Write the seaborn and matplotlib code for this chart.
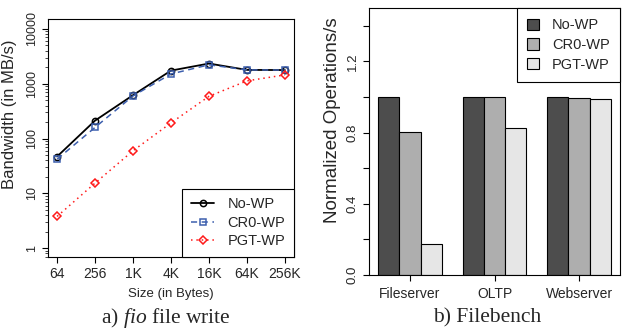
import numpy as np
import pandas as pd
import matplotlib
matplotlib.use("Agg")
import matplotlib.pyplot as plt
import seaborn as sns
from matplotlib.ticker import LogLocator, NullFormatter, FixedLocator

# data
sizes = ['64', '256', '1K', '4K', '16K', '64K', '256K']
bw_nowp = [47, 213, 620, 1740, 2340, 1790, 1780]
bw_cr0 = [42, 160, 600, 1510, 2220, 1790, 1780]
bw_pgt = [3.8, 15.4, 60, 193, 590, 1130, 1450]

workloads = ['Fileserver', 'OLTP', 'Webserver']
ops_nowp = [1.0, 1.0, 1.0]
ops_cr0 = [0.805, 1.0, 0.997]
ops_pgt = [0.175, 0.824, 0.988]

configs = ['No-WP', 'CR0-WP', 'PGT-WP']

sns.set_style('ticks')
plt.rcParams['font.family'] = ['Liberation Sans', 'DejaVu Sans']
plt.rcParams['mathtext.fontset'] = 'custom'
plt.rcParams['mathtext.it'] = 'Liberation Serif:italic'
plt.rcParams['mathtext.rm'] = 'Liberation Serif'

fig = plt.figure(figsize=(6.26, 3.33), dpi=100)
ax1 = fig.add_axes([48 / 626, 76 / 333, 246 / 626, 238 / 333])
ax2 = fig.add_axes([369 / 626, 58 / 333, 251 / 626, 267 / 333])

# left: fio write bandwidth
df_bw = pd.DataFrame({'pos': np.arange(len(sizes)), 'No-WP': bw_nowp,
                      'CR0-WP': bw_cr0, 'PGT-WP': bw_pgt})
styles = {
    'No-WP': dict(color='black', linestyle='-', marker='o', ms=4.5, lw=1.3),
    'CR0-WP': dict(color='#3d5fae', linestyle=(0, (4, 3)), marker='s', ms=4, lw=1.1),
    'PGT-WP': dict(color='#ff1a1a', linestyle=(0, (1, 2.5)), marker='D', ms=3.8, lw=1.1),
}
for name in configs:
    st = styles[name]
    sns.lineplot(data=df_bw, x='pos', y=name, ax=ax1, label=name,
                 color=st['color'], linestyle=st['linestyle'],
                 marker=st['marker'], markersize=st['ms'], linewidth=st['lw'],
                 markerfacecolor='none', markeredgecolor=st['color'],
                 markeredgewidth=1.1)

ax1.set_yscale('log')
ax1.set_ylim(0.69, 15200)
ax1.set_xlim(-0.24, 6.24)
ax1.set_xticks(np.arange(len(sizes)))
ax1.set_xticklabels(sizes, fontsize=10)
ax1.yaxis.set_major_locator(FixedLocator([1, 10, 100, 1000, 10000]))
ax1.set_yticklabels(['1', '10', '100', '1000', '10000'], fontsize=9,
                    rotation=90, va='center')
ax1.yaxis.set_minor_locator(LogLocator(base=10, subs=np.arange(2, 10)))
ax1.yaxis.set_minor_formatter(NullFormatter())
ax1.set_xlabel('Size (in Bytes)', fontsize=9.5, labelpad=5)
ax1.set_ylabel('Bandwidth (in MB/s)', fontsize=12)
ax1.yaxis.set_label_coords(-0.125, 0.6)
leg1 = ax1.legend(loc='lower right', fontsize=10.5, frameon=True, fancybox=False,
                  framealpha=1, edgecolor='black', handlelength=1.6,
                  handletextpad=0.9, borderaxespad=0, borderpad=0.6,
                  labelspacing=0.3)
leg1.get_frame().set_linewidth(0.8)

# right: filebench normalized ops
df_ops = pd.DataFrame({'workload': workloads * 3,
                       'config': np.repeat(configs, 3),
                       'ops': ops_nowp + ops_cr0 + ops_pgt})
sns.barplot(data=df_ops, x='workload', y='ops', hue='config', ax=ax2,
            palette=['#4d4d4d', '#aeaeae', '#e6e6e6'], width=0.75, gap=0,
            edgecolor='black', linewidth=0.8, saturation=1)
ax2.set_xlim(-0.485, 2.485)
ax2.set_ylim(0, 1.5)
ax2.set_yticks(np.arange(0, 1.41, 0.2))
ax2.set_yticklabels(['0.0', '', '0.4', '', '0.8', '', '1.2', ''], fontsize=9.5,
                    rotation=90, va='center')
ax2.tick_params(axis='x', length=0, labelsize=10, pad=5)
ax2.set_xlabel('')
ax2.set_ylabel('Normalized Operations/s', fontsize=13.5)
ax2.yaxis.set_label_coords(-0.11, 0.58)
leg2 = ax2.legend(loc='upper right', fontsize=10.5, frameon=True, fancybox=False,
                  framealpha=1, edgecolor='black', title=None,
                  borderaxespad=0, borderpad=0.7, labelspacing=0.4,
                  handlelength=0.8, handleheight=0.8, handletextpad=0.9)
leg2.get_frame().set_linewidth(0.8)

for ax in (ax1, ax2):
    for sp in ax.spines.values():
        sp.set_visible(True)
        sp.set_linewidth(0.8)
        sp.set_color('black')
    ax.tick_params(direction='out', length=4, width=0.8, color='black')
    ax.tick_params(which='minor', length=2.5, width=0.6)
    ax.grid(False)

fig.text(0.265, 0.045, 'a) $\\mathit{fio}$ file write', ha='center', va='center',
         fontsize=15.5, family=['Liberation Serif', 'DejaVu Serif'])
fig.text(0.778, 0.045, 'b) Filebench', ha='center', va='center',
         fontsize=15.5, family=['Liberation Serif', 'DejaVu Serif'])

fig.savefig('out.png', dpi=100)
